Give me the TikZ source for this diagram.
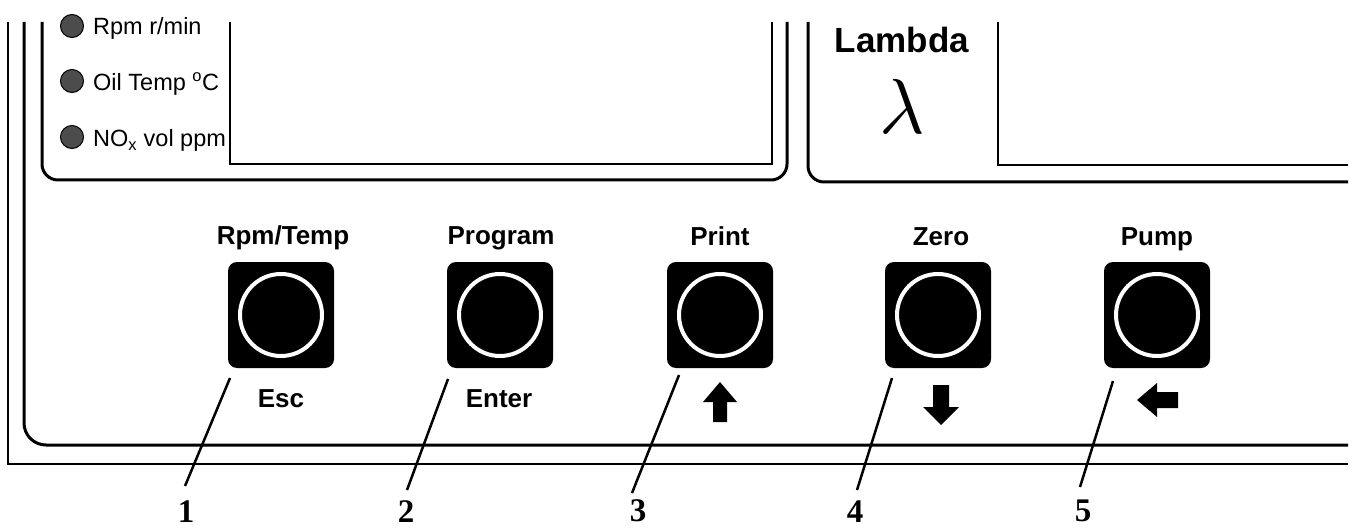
\documentclass[tikz,border=0pt]{standalone}
\usepackage{fontspec}
\setmainfont{Liberation Sans}
\newfontfamily\numserif{Liberation Serif}
\usepackage{tikz}

\begin{document}
\begin{tikzpicture}[x=1pt,y=-1pt]
    \newcommand{\fsize}[1]{\fontsize{#1}{#1}\selectfont}
    
    \tikzstyle{frame} = [line width=2pt,draw=black]
    \tikzstyle{panel} = [line width=3pt,draw=black]
    \tikzstyle{leader} = [line width=2.5pt,draw=black]
    \tikzstyle{keycap}=[
      fill=black,
      rounded corners=9pt,
      minimum size=106pt,
      inner sep=0pt,
    ]
    \tikzstyle{ring}=[circle,draw=white,line width=4pt,minimum size=82pt,inner sep=0pt]
    \tikzstyle{keytitle}=[font=\fsize{26}\bfseries,anchor=base,inner sep=0pt]
    \tikzstyle{led}=[circle,draw=black,fill=black!70,line width=1pt,minimum size=23pt,inner sep=0pt]
    \tikzstyle{ledtext}=[font=\fsize{23.5},anchor=base west,inner sep=0pt]
    \tikzstyle{num}=[font=\numserif\fsize{33}\bfseries,anchor=base,inner sep=0pt]
    
    \useasboundingbox (0,0) rectangle (1356,529);
    \fill[white] (0,0) rectangle (1356,529);
    
    % housing and display windows
    \draw[frame] (8,22) |- (1348,464);
    \draw[panel,rounded corners=22pt] (24,22) |- (1348,445);
    \draw[panel,rounded corners=16pt] (42,22) |- (787,180) -- (787,22);
    \draw[frame] (230,22) |- (772,164) -- (772,22);
    \draw[panel,rounded corners=16pt] (808,22) |- (1348,182);
    \draw[frame] (998,22) |- (1348,165);
    
    % indicator lamps
    \node[led] (l1) at (72,26) {};
    \node[led] (l2) at (72,81) {};
    \node[led] (l3) at (72,137) {};
    \node[ledtext] (lt1) at (93,35) {Rpm r/min};
    \node[ledtext] (lt2) at (93,91) {Oil Temp \textsuperscript{o}C};
    \node[ledtext] (lt3) at (93,147) {NO\textsubscript{x} vol ppm};
    
    \node[font=\fsize{35}\bfseries,anchor=base,inner sep=0pt] (lam) at (902,53) {Lambda};
    \node[anchor=base,inner sep=0pt] (lsym) at (902,134) {\scalebox{7.8}{$\lambda$}};
    
    % keys
    \node[keycap] (k1) at (281,315) {};
    \node[keycap] (k2) at (500,315) {};
    \node[keycap] (k3) at (720,315) {};
    \node[keycap] (k4) at (938,315) {};
    \node[keycap] (k5) at (1157,315) {};
    \node[ring] (r1) at (k1) {};
    \node[ring] (r2) at (k2) {};
    \node[ring] (r3) at (k3) {};
    \node[ring] (r4) at (k4) {};
    \node[ring] (r5) at (k5) {};
    
    \node[keytitle] (t1) at (283,244) {Rpm/Temp};
    \node[keytitle] (t2) at (501,244) {Program};
    \node[keytitle] (t3) at (720,246) {Print};
    \node[keytitle] (t4) at (941,246) {Zero};
    \node[keytitle] (t5) at (1157,245) {Pump};
    
    \node[keytitle] (s1) at (281,407) {Esc};
    \node[keytitle] (s2) at (499,407) {Enter};
    \fill[shift={(720,402)}] (0,-20) -- (17,0) -- (7,0) -- (7,20) -- (-7,20) -- (-7,0) -- (-17,0) -- cycle;
    \fill[shift={(941,405)}] (0,20) -- (18,2) -- (8,2) -- (8,-20) -- (-8,-20) -- (-8,2) -- (-18,2) -- cycle;
    \fill[shift={(1157,400)}] (-20,0) -- (0,-17) -- (0,-8) -- (21,-8) -- (21,8) -- (0,8) -- (0,17) -- cycle;
    
    % callouts
    \coordinate (c1) at (230,378);
    \coordinate (c2) at (448,379);
    \coordinate (c3) at (679,375);
    \coordinate (c4) at (892,378);
    \coordinate (c5) at (1113,381);
    \coordinate (d1) at (185,486);
    \coordinate (d2) at (407,490);
    \coordinate (d3) at (632,493);
    \coordinate (d4) at (857,490);
    \coordinate (d5) at (1080,487);
    \node[num] (n1) at (186,522) {1};
    \node[num] (n2) at (406,522) {2};
    \node[num] (n3) at (638,521) {3};
    \node[num] (n4) at (855,522) {4};
    \node[num] (n5) at (1083,521) {5};
    
    \draw[leader] (c1)--(d1);
    \draw[leader] (c2)--(d2);
    \draw[leader] (c3)--(d3);
    \draw[leader] (c4)--(d4);
    \draw[leader] (c5)--(d5);
  \end{tikzpicture}
\end{document}
